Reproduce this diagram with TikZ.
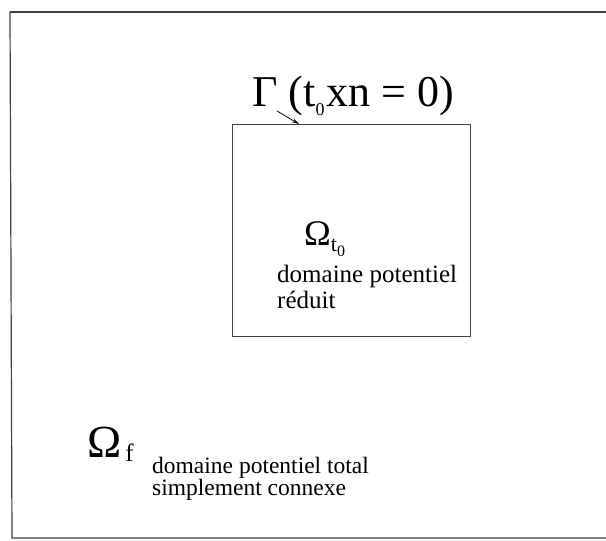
\documentclass[tikz,border=0pt]{standalone}
\usepackage{fontspec}
\usetikzlibrary{arrows.meta}
\setmainfont{Liberation Serif}
\begin{document}
\begin{tikzpicture}[x=1pt,y=-1pt,
  frame/.style={draw, line width=1.2pt, black!75},
  arr/.style={-{Stealth[length=7pt,width=4pt]}, line width=0.8pt},
  upper/.style={inner sep=0pt, anchor=base west, font=\fontsize{25}{26}\selectfont},
  lower/.style={inner sep=0pt, anchor=base west, font=\fontsize{23.5}{22}\selectfont}]
\useasboundingbox (0,0) rectangle (606,541);
\fill[white] (0,0) rectangle (606,541);
\draw[frame] (10,12) -- (606,12);
\draw[frame] (10,12) -- (12,538) -- (606,538);
\node[frame, draw, minimum width=238pt, minimum height=212pt, inner sep=0pt, anchor=north west, line width=0.9pt] (box) at (232,124) {};
\node[inner sep=0pt, anchor=base west, font=\fontsize{44}{44}\selectfont] (gamma) at (252,106)
  {Γ (t\raisebox{-0.22em}{\fontsize{18}{18}\selectfont 0}\hspace{2pt}xn = 0)};
\coordinate (tip) at (299,124);
\coordinate (tail) at (277,111);
\draw[arr] (tail) -- (tip);
\node[inner sep=0pt, anchor=base west, font=\fontsize{36}{36}\selectfont] (omt) at (304,245)
  {Ω\raisebox{-0.18em}{\fontsize{22}{22}\selectfont t\raisebox{-0.25em}{\fontsize{16}{16}\selectfont 0}}};
\node[upper] (dpr1) at (277,282) {domaine potentiel};
\node[upper] (dpr2) at (277,308) {réduit};
\node[inner sep=0pt, anchor=base west, font=\fontsize{46}{46}\selectfont] (omf) at (87,457)
  {Ω\raisebox{-0.1em}{\fontsize{25}{25}\selectfont \hspace{4pt}f}};
\node[lower] (dpt1) at (152,473) {domaine potentiel total};
\node[lower] (dpt2) at (152,495) {simplement connexe};
\end{tikzpicture}
\end{document}
